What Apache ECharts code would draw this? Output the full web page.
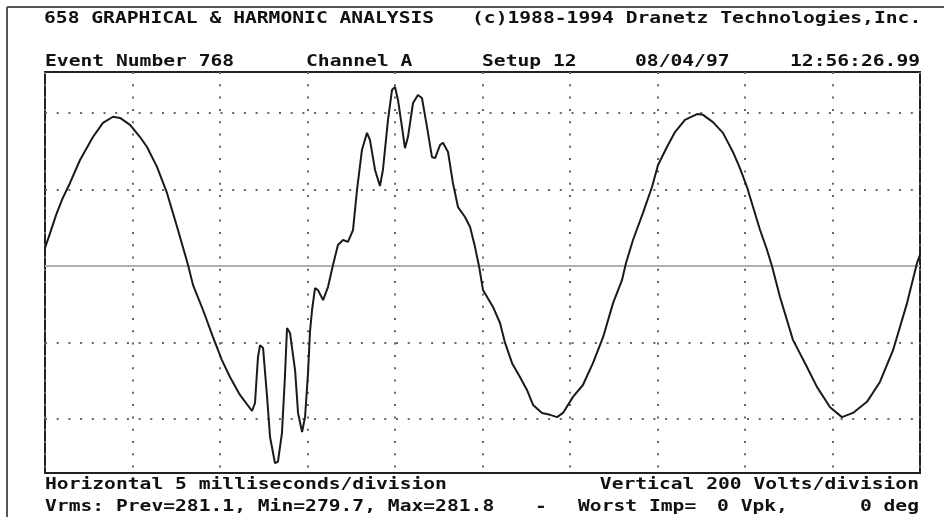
<!DOCTYPE html>
<html>
<head>
<meta charset="utf-8">
<style>
html,body{margin:0;padding:0;background:#fff;}
#chart{width:944px;height:517px;}
</style>
<script src="https://cdn.jsdelivr.net/npm/echarts@6/dist/echarts.min.js"></script>
</head>
<body>
<div id="chart"></div>
<script>
// time in milliseconds (5 ms / division, 10 divisions)
var timeMs = [0,0.29,0.63,0.97,1.43,2.0,2.74,3.31,3.89,4.29,4.86,5.43,5.83,6.4,6.97,7.6,8.17,8.46,9.03,9.6,10.11,10.57,11.14,11.83,12.0,12.17,12.29,12.46,12.69,12.86,13.14,13.31,13.54,13.71,13.83,14.0,14.29,14.46,14.69,14.86,15.03,15.14,15.26,15.43,15.6,15.89,16.17,16.46,16.74,17.03,17.31,17.6,17.83,18.11,18.4,18.57,18.86,19.14,19.31,19.6,19.83,20.0,20.17,20.4,20.57,20.74,21.03,21.31,21.54,21.83,22.11,22.29,22.57,22.74,23.03,23.31,23.6,24.0,24.29,24.57,24.8,25.03,25.6,26.0,26.29,26.69,27.14,27.54,27.89,28.4,28.86,29.26,29.6,30.17,30.74,31.31,31.89,32.46,32.97,33.2,33.6,34.17,34.69,35.03,35.54,36.0,36.57,37.26,37.6,38.17,38.74,39.31,39.71,40.11,40.46,40.86,41.26,41.54,42.0,42.74,43.54,44.11,44.86,45.54,46.17,46.97,47.71,48.46,49.26,49.83,50];
// voltage (200 V / division)
var volts = [47,86,133,173,217,277,337,374,390,387,369,337,311,259,191,94,3,-50,-115,-186,-246,-290,-337,-379,-358,-238,-207,-214,-342,-447,-515,-512,-437,-290,-162,-175,-272,-384,-434,-395,-280,-173,-115,-58,-63,-89,-55,3,55,68,63,94,199,303,348,329,251,209,251,382,460,468,434,363,308,337,426,447,439,363,285,282,316,322,298,217,154,128,102,50,0,-63,-107,-149,-201,-254,-290,-324,-363,-384,-389,-395,-384,-342,-311,-254,-186,-97,-37,8,68,139,207,264,311,350,382,397,395,376,348,298,256,207,154,94,42,0,-81,-193,-264,-316,-369,-395,-384,-355,-303,-220,-97,8,29];
var gridLevels = [-400,-200,200,400];
var zeroLevel = [0];

var headerLine1Left = "658 GRAPHICAL & HARMONIC ANALYSIS";
var headerLine1Right = "(c)1988-1994 Dranetz Technologies,Inc.";
var headerLine2 = [["Event Number 768",45],["Channel A",306],["Setup 12",482],["08/04/97",635],["12:56:26.99",790]];
var footerLine1 = [["Horizontal 5 milliseconds/division",45,"left"],["Vertical 200 Volts/division",919,"right"]];
var footerLine2 = [["Vrms: Prev=281.1, Min=279.7, Max=281.8",45,"left"],["-",535,"left"],["Worst Imp=",578,"left"],["0 Vpk,",717,"left"],["0 deg",919,"right"]];

var chart = echarts.init(document.getElementById('chart'), null, {renderer:'canvas'});
var pts = timeMs.map(function(t,i){return [t, volts[i]];});

var FS = 16.5, SX = 1.19;
function txt(s, x, y, align){
  return {type:'text', x:x, y:y, scaleX:SX, scaleY:1, z:100,
    style:{text:s, x:0, y:0, align:align||'left', verticalAlign:'middle',
      font:'bold '+FS+'px "DejaVu Sans Mono", monospace', fill:'#111'}};
}
var graphics = [
  {type:'line', shape:{x1:7,y1:7,x2:944,y2:7}, style:{stroke:'#555',lineWidth:2}},
  {type:'line', shape:{x1:7,y1:7,x2:7,y2:517}, style:{stroke:'#555',lineWidth:2}},
  txt(headerLine1Left,44,19),
  txt(headerLine1Right,472,19)
];
headerLine2.forEach(function(a){graphics.push(txt(a[0],a[1],62));});
footerLine1.forEach(function(a){graphics.push(txt(a[0],a[1],485,a[2]));});
footerLine2.forEach(function(a){graphics.push(txt(a[0],a[1],507,a[2]));});

chart.setOption({
  animation:false,
  backgroundColor:'#fff',
  grid:{left:45, top:72, width:875, height:401, show:true, borderColor:'#222', borderWidth:2, backgroundColor:'transparent'},
  xAxis:{type:'value', min:0, max:50, interval:5,
    axisLine:{show:false}, axisTick:{show:false}, axisLabel:{show:false},
    splitLine:{show:true, lineStyle:{color:'#666', width:2, type:[2,10.3]}}},
  yAxis:{type:'value', min:-541, max:507,
    axisLine:{show:false}, axisTick:{show:false}, axisLabel:{show:false},
    splitLine:{show:false}},
  series:[
    {type:'line', data:[], silent:true,
     markLine:{silent:true, symbol:'none', label:{show:false},
       lineStyle:{color:'#666', width:2, type:[2,9.7]},
       data:gridLevels.map(function(v){return {yAxis:v};})}},
    {type:'line', data:[], silent:true,
     markLine:{silent:true, symbol:'none', label:{show:false},
       lineStyle:{color:'#b0b0b0', width:2, type:'solid'},
       data:zeroLevel.map(function(v){return {yAxis:v};})}},
    {type:'line', data:pts, showSymbol:false, symbol:'none', smooth:false,
     lineStyle:{color:'#1a1a1a', width:2}, z:10}
  ],
  graphic:graphics
});
</script>
</body>
</html>
